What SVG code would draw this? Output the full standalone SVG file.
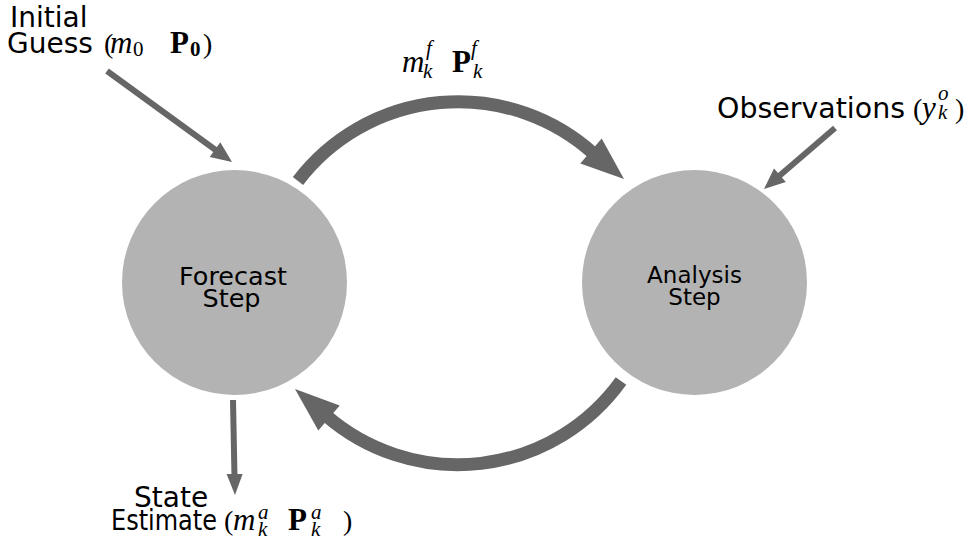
<svg xmlns="http://www.w3.org/2000/svg" width="970" height="552" viewBox="0 0 970 552">
<style>
.node{fill:#b3b3b3}
.lbl{font-family:"DejaVu Sans",sans-serif;font-size:28px;fill:#000}
.in{font-family:"DejaVu Sans",sans-serif;fill:#000;text-anchor:middle}
.m{font-family:"Liberation Serif",serif;font-size:28px;fill:#000}
.mi{font-style:italic;font-size:31px}
.mb{font-weight:bold;font-size:31px}
.si{font-style:italic;font-size:21px}
.sr{font-size:21px}
.sb{font-weight:bold;font-size:21px}
.big{fill:none;stroke:#666;stroke-width:13}
.sm{fill:none;stroke:#666;stroke-width:6}
.hd{fill:#666}
</style>
<rect width="970" height="552" fill="#fff"/>
<g id="connectors">
<path class="big" d="M298,181 A202,202 0 0 1 594,154"/>
<polygon class="hd" points="624,179 601.7,138.5 580.3,163.5"/>
<path class="big" d="M621,381 A201,201 0 0 1 326,415.5"/>
<polygon class="hd" points="295,389 339.7,405.5 318.3,430.5"/>
<line class="sm" x1="107" y1="71" x2="217" y2="151"/>
<polygon class="hd" points="232,162 220.3,142.3 209.7,156.9"/>
<line class="sm" x1="835" y1="128" x2="778" y2="177"/>
<polygon class="hd" points="764,189 785.8,182.1 774,168.5"/>
<line class="sm" x1="233" y1="400" x2="234.5" y2="477"/>
<polygon class="hd" points="235,495 226.6,474 242.6,474"/>
</g>
<g id="forecast">
<circle class="node" cx="234.5" cy="282.5" r="112.5"/>
<text class="in" x="233" y="285" font-size="25.5">Forecast</text>
<text class="in" x="231.5" y="307" font-size="25.5">Step</text>
</g>
<g id="analysis">
<circle class="node" cx="694.5" cy="282.5" r="112.5"/>
<text class="in" x="694.5" y="283" font-size="23">Analysis</text>
<text class="in" x="694.5" y="305" font-size="23">Step</text>
</g>
<g id="initial-guess">
<text class="lbl" x="10" y="27">Initial</text>
<text class="lbl" x="7" y="53">Guess</text>
<text class="m" y="53"><tspan x="104">(</tspan><tspan class="mi" x="110">m</tspan><tspan class="sr" x="133" y="56">0</tspan><tspan class="mb" x="170" y="53">P</tspan><tspan class="sb" x="190" y="56">0</tspan><tspan x="203" y="53">)</tspan></text>
</g>
<g id="forecast-label">
<text class="m" y="72"><tspan class="mi" x="402">m</tspan><tspan class="si" x="426" y="55">f</tspan><tspan class="si" x="423" y="78">k</tspan><tspan class="mb" x="452" y="72">P</tspan><tspan class="si" x="471" y="55">f</tspan><tspan class="si" x="473" y="78">k</tspan></text>
</g>
<g id="observations">
<text class="lbl" x="717" y="118" textLength="188" lengthAdjust="spacingAndGlyphs">Observations</text>
<text class="m" y="118"><tspan x="913">(</tspan><tspan class="mi" x="922">y</tspan><tspan class="si" x="938" y="100">o</tspan><tspan class="si" x="938" y="119">k</tspan><tspan x="955" y="118">)</tspan></text>
</g>
<g id="state-estimate">
<text class="lbl" x="134" y="507">State</text>
<text class="lbl" x="111" y="530" textLength="106" lengthAdjust="spacingAndGlyphs">Estimate</text>
<text class="m" y="530"><tspan x="224">(</tspan><tspan class="mi" x="233">m</tspan><tspan class="si" x="258" y="519">a</tspan><tspan class="si" x="258" y="536">k</tspan><tspan class="mb" x="288" y="530">P</tspan><tspan class="si" x="311" y="519">a</tspan><tspan class="si" x="311" y="536">k</tspan><tspan x="343" y="530">)</tspan></text>
</g>
</svg>
